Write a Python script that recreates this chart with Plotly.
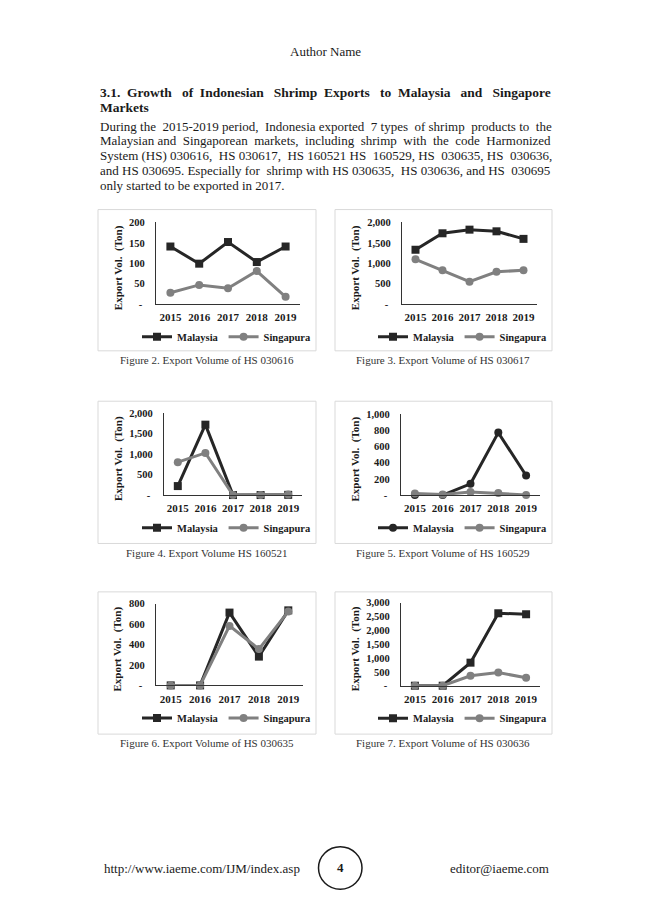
import plotly.graph_objects as go

years = ["2015", "2016", "2017", "2018", "2019"]

hs030616_my = [141, 99, 152, 103, 141]
hs030616_sg = [28, 47, 39, 81, 18]
hs030617_my = [1331, 1734, 1823, 1782, 1597]
hs030617_sg = [1097, 831, 548, 790, 831]
hs160521_my = [219, 1717, 0, 0, 5]
hs160521_sg = [802, 1028, 0, 0, 15]
hs160529_my = [0, 0, 139, 771, 241]
hs160529_sg = [20, 8, 37, 24, 2]
hs030635_my = [0, 0, 713, 282, 735]
hs030635_sg = [0, 0, 583, 356, 725]
hs030636_my = [0, 0, 833, 2619, 2583]
hs030636_sg = [0, 0, 357, 476, 286]

ticks_200 = [0, 50, 100, 150, 200]
ticks_800 = [0, 200, 400, 600, 800]
ticks_1000 = [0, 200, 400, 600, 800, 1000]
ticks_2000 = [0, 500, 1000, 1500, 2000]
ticks_3000 = [0, 500, 1000, 1500, 2000, 2500, 3000]

captions = [
    "Figure 2. Export Volume of HS 030616",
    "Figure 3. Export Volume of HS 030617",
    "Figure 4. Export Volume HS 160521",
    "Figure 5. Export Volume of HS 160529",
    "Figure 6. Export Volume of HS 030635",
    "Figure 7. Export Volume of HS 030636",
]

heading = [
    "3.1. Growth of Indonesian Shrimp Exports to Malaysia and Singapore",
    "Markets",
]
paragraph = [
    "During the 2015-2019 period, Indonesia exported 7 types of shrimp products to the",
    "Malaysian and Singaporean markets, including shrimp with the code Harmonized",
    "System (HS) 030616, HS 030617, HS 160521 HS 160529, HS 030635, HS 030636,",
    "and HS 030695. Especially for shrimp with HS 030635, HS 030636, and HS 030695",
    "only started to be exported in 2017.",
]
# espacios extra para imitar el texto justificado
heading_extra = [14, 0]
paragraph_extra = [6, 8, 5, 3, 0]

# la pagina html deja 8px de margen en el body
OFF = 8
W, H = 650 - 2 * OFF, 919 - 2 * OFF
SERIF = "Liberation Serif"
DARK = "#262626"
GREY = "#808080"
TXT = "#1a1a1a"


def px(p):
    return (p - OFF) / W


def py(p):
    return 1 - (p - OFF) / H


def fmt(v):
    return "-\u00a0" if v == 0 else f"{v:,}"


def justify(line, n):
    words = line.split(" ")
    gaps = len(words) - 1
    if n == 0 or gaps == 0:
        return line
    out = words[0]
    for i in range(gaps):
        k = (i + 1) * n // gaps - i * n // gaps
        out += " " + "\u00a0" * k + words[i + 1]
    return out


# (malaysia, singapura, ticks, area del grafico px, caja px, centro leyenda, simbolo malaysia)
charts = [
    (hs030616_my, hs030616_sg, ticks_200, (156, 300, 220, 302.7), (98, 316, 207, 350), 227, "square"),
    (hs030617_my, hs030617_sg, ticks_2000, (402, 537, 220, 302.7), (335, 552, 207, 350), 463, "square"),
    (hs160521_my, hs160521_sg, ticks_2000, (164, 302, 413, 496), (98, 316, 401, 545), 227, "square"),
    (hs160529_my, hs160529_sg, ticks_1000, (401, 540, 414, 496), (335, 552, 401, 545), 463, "circle"),
    (hs030635_my, hs030635_sg, ticks_800, (156, 303, 606, 688.7), (98, 316, 594, 738), 227, "square"),
    (hs030636_my, hs030636_sg, ticks_3000, (401, 540, 605, 689), (335, 552, 594, 738), 463, "square"),
]

fig = go.Figure()
shapes = []
annotations = []
layout = {}

for i, (my, sg, tv, area, box, lx, sym) in enumerate(charts):
    n = "" if i == 0 else str(i + 1)
    x0, x1, yt, yb = area
    bx0, bx1, by0, by1 = box
    leg = "legend" + n

    fig.add_trace(go.Scatter(
        x=years, y=my, name="Malaysia", mode="lines+markers",
        line=dict(color=DARK, width=3),
        marker=dict(symbol=sym, size=8, color=DARK),
        xaxis="x" + n, yaxis="y" + n, legend=leg, cliponaxis=False))
    fig.add_trace(go.Scatter(
        x=years, y=sg, name="Singapura", mode="lines+markers",
        line=dict(color=GREY, width=3),
        marker=dict(symbol="circle", size=8, color=GREY),
        xaxis="x" + n, yaxis="y" + n, legend=leg, cliponaxis=False))

    layout["xaxis" + n] = dict(
        domain=[px(x0), px(x1)], anchor="y" + n, type="category",
        range=[-0.5, 4.5], showgrid=False, zeroline=False,
        showline=True, linecolor="#333333", linewidth=1.2, ticks="",
        tickfont=dict(family=SERIF, size=11, color=TXT, weight="bold"),
        ticklabelstandoff=3, fixedrange=True)
    layout["yaxis" + n] = dict(
        domain=[py(yb), py(yt)], anchor="x" + n,
        range=[0, tv[-1]], showgrid=False, zeroline=False,
        showline=True, linecolor="#333333", linewidth=1.2, ticks="",
        tickvals=tv, ticktext=[fmt(v) for v in tv],
        tickfont=dict(family=SERIF, size=10.5, color=TXT, weight="bold"),
        ticklabelstandoff=8, fixedrange=True)

    # leyenda debajo de cada grafico
    layout[leg] = dict(
        orientation="h", x=px(lx), xanchor="center",
        y=py(yb + 33), yanchor="middle", bgcolor="rgba(0,0,0,0)",
        font=dict(family=SERIF, size=10.5, color=TXT, weight="bold"),
        itemwidth=30, tracegroupgap=0)

    # caja gris
    shapes.append(dict(type="rect", xref="paper", yref="paper",
                       x0=px(bx0), x1=px(bx1), y0=py(by1), y1=py(by0),
                       line=dict(color="#d9d9d9", width=1)))

    # titulo eje y
    annotations.append(dict(
        text="Export Vol.  (Ton)", textangle=-90, xref="paper", yref="paper",
        x=px(bx0 + 20), y=py((yt + yb) / 2 + 5), showarrow=False,
        xanchor="center", yanchor="middle",
        font=dict(family=SERIF, size=11, color=TXT, weight="bold")))

    # pie de figura
    annotations.append(dict(
        text=captions[i], xref="paper", yref="paper",
        x=px((bx0 + bx1) / 2), y=py(by1 + 9.5), showarrow=False,
        xanchor="center", yanchor="middle",
        font=dict(family=SERIF, size=11, color="#333333")))

# texto de la pagina
annotations.append(dict(text="Author Name", xref="paper", yref="paper",
                        x=px(325), y=py(47), showarrow=False,
                        xanchor="center", yanchor="middle",
                        font=dict(family=SERIF, size=13, color=TXT)))
for k, line in enumerate(heading):
    annotations.append(dict(text="<b>" + justify(line, heading_extra[k]) + "</b>",
                            xref="paper", yref="paper",
                            x=px(98), y=py(88 + 15.5 * k), showarrow=False,
                            xanchor="left", yanchor="middle",
                            font=dict(family=SERIF, size=13.5, color=TXT)))
for k, line in enumerate(paragraph):
    annotations.append(dict(text=justify(line, paragraph_extra[k]),
                            xref="paper", yref="paper",
                            x=px(98), y=py(122.5 + 15 * k), showarrow=False,
                            xanchor="left", yanchor="middle",
                            font=dict(family=SERIF, size=13, color=TXT)))

# pie de pagina
annotations.append(dict(text="http://www.iaeme.com/IJM/index.asp", xref="paper", yref="paper",
                        x=px(102), y=py(874), showarrow=False,
                        xanchor="left", yanchor="middle",
                        font=dict(family=SERIF, size=13, color=TXT)))
annotations.append(dict(text="editor@iaeme.com", xref="paper", yref="paper",
                        x=px(551), y=py(874), showarrow=False,
                        xanchor="right", yanchor="middle",
                        font=dict(family=SERIF, size=13, color=TXT)))
annotations.append(dict(text="<b>4</b>", xref="paper", yref="paper",
                        x=px(340), y=py(873), showarrow=False,
                        xanchor="center", yanchor="middle",
                        font=dict(family=SERIF, size=13, color=TXT)))
shapes.append(dict(type="circle", xref="paper", yref="paper",
                   x0=px(318.5), x1=px(362), y0=py(895), y1=py(852),
                   line=dict(color=TXT, width=1.5)))

fig.update_layout(
    width=W, height=H, margin=dict(l=0, r=0, t=0, b=0),
    paper_bgcolor="white", plot_bgcolor="white",
    shapes=shapes, annotations=annotations, **layout)

fig.write_html("out.html")
